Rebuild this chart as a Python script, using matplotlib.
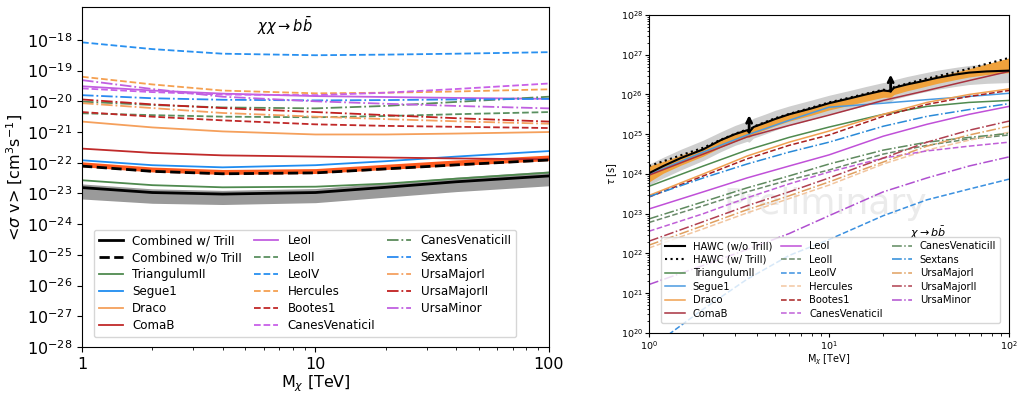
import numpy as np
import matplotlib
matplotlib.use("Agg")
import matplotlib.pyplot as plt
from matplotlib.ticker import LogLocator, NullFormatter, FixedLocator, FixedFormatter

# ---- left panel: <sigma v> limits, log10 values ----
m_left = [1, 2, 4, 10, 20, 40, 100]

sv_comb_w = [-22.81, -22.97, -23.02, -22.97, -22.80, -22.62, -22.43]
sv_comb_w_hi = [-22.69, -22.85, -22.90, -22.84, -22.66, -22.47, -22.27]
sv_comb_w_lo = [-23.18, -23.32, -23.36, -23.30, -23.12, -22.94, -22.75]
sv_comb_wo = [-22.11, -22.28, -22.36, -22.33, -22.20, -22.07, -21.91]
sv_comb_wo_hi = [-21.97, -22.14, -22.22, -22.19, -22.05, -21.91, -21.75]
sv_comb_wo_lo = [-22.13, -22.30, -22.38, -22.35, -22.22, -22.09, -21.93]

sv_dwarfs = {
    "TriangulumII": [-22.57, -22.73, -22.80, -22.78, -22.68, -22.52, -22.32],
    "Segue1": [-21.92, -22.08, -22.15, -22.08, -21.95, -21.80, -21.62],
    "Draco": [-20.66, -20.85, -20.98, -21.08, -21.08, -21.05, -21.00],
    "ComaB": [-21.54, -21.68, -21.76, -21.80, -21.83, -21.86, -21.89],
    "LeoI": [-19.51, -19.65, -19.75, -19.83, -19.86, -19.89, -19.92],
    "LeoII": [-20.39, -20.45, -20.50, -20.52, -20.48, -20.42, -20.35],
    "LeoIV": [-18.08, -18.30, -18.45, -18.50, -18.48, -18.45, -18.40],
    "Hercules": [-19.20, -19.45, -19.65, -19.74, -19.72, -19.68, -19.61],
    "Bootes1": [-20.35, -20.50, -20.62, -20.75, -20.80, -20.83, -20.87],
    "CanesVenaticiI": [-19.58, -19.70, -19.78, -19.80, -19.72, -19.60, -19.42],
    "CanesVenaticiII": [-20.01, -20.12, -20.20, -20.23, -20.15, -20.02, -19.85],
    "Sextans": [-19.80, -19.90, -19.95, -19.97, -19.96, -19.94, -19.92],
    "UrsaMajorI": [-20.06, -20.22, -20.38, -20.50, -20.58, -20.65, -20.73],
    "UrsaMajorII": [-19.94, -20.10, -20.22, -20.35, -20.45, -20.55, -20.66],
    "UrsaMinor": [-19.31, -19.60, -19.85, -20.00, -20.08, -20.15, -20.23],
}

# ---- right panel: lifetime limits, log10 values ----
m_right = [1, 2, 3.5, 6, 10, 20, 35, 60, 100]

tau_dwarfs = {
    "TriangulumII": [23.69, 24.20, 24.60, 24.92, 25.18, 25.50, 25.70, 25.80, 25.85],
    "Segue1": [23.99, 24.55, 24.98, 25.35, 25.68, 25.78, 25.87, 25.95, 26.03],
    "Draco": [23.46, 24.00, 24.45, 24.80, 25.08, 25.50, 25.80, 26.00, 26.14],
    "ComaB": [23.97, 24.50, 24.93, 25.22, 25.48, 25.85, 26.10, 26.35, 26.58],
    "LeoI": [23.12, 23.55, 23.90, 24.20, 24.48, 24.95, 25.25, 25.50, 25.70],
    "LeoII": [22.78, 23.20, 23.55, 23.85, 24.10, 24.50, 24.72, 24.88, 24.98],
    "LeoIV": [19.60, 20.60, 21.35, 21.95, 22.35, 22.95, 23.35, 23.62, 23.87],
    "Hercules": [22.14, 22.62, 23.02, 23.38, 23.72, 24.25, 24.60, 24.85, 25.05],
    "Bootes1": [23.42, 23.95, 24.38, 24.72, 24.98, 25.45, 25.75, 25.95, 26.10],
    "CanesVenaticiI": [22.56, 23.00, 23.40, 23.75, 24.05, 24.40, 24.58, 24.70, 24.80],
    "CanesVenaticiII": [22.87, 23.30, 23.65, 23.95, 24.25, 24.60, 24.80, 24.92, 25.02],
    "Sextans": [23.43, 23.90, 24.25, 24.55, 24.80, 25.20, 25.45, 25.62, 25.77],
    "UrsaMajorI": [22.21, 22.70, 23.10, 23.45, 23.80, 24.30, 24.70, 24.98, 25.20],
    "UrsaMajorII": [22.31, 22.80, 23.20, 23.55, 23.90, 24.40, 24.80, 25.10, 25.33],
    "UrsaMinor": [21.22, 21.70, 22.10, 22.50, 22.95, 23.55, 23.90, 24.20, 24.43],
}

m_hawc = [1, 1.2, 1.5, 2, 2.5, 3, 3.5, 3.6, 3.8, 4.5, 5, 6, 8, 10, 13, 16, 20, 22, 23,
          27, 32, 40, 50, 60, 75, 100]
tau_hawc_wo = [24.02, 24.20, 24.40, 24.62, 24.85, 25.00, 25.10, 25.05, 25.18, 25.30, 25.38,
               25.50, 25.65, 25.78, 25.90, 26.00, 26.10, 26.08, 26.17, 26.25, 26.32, 26.42,
               26.50, 26.55, 26.58, 26.60]
tau_hawc_w = [24.20, 24.32, 24.47, 24.66, 24.86, 25.01, 25.12, 25.08, 25.19, 25.32, 25.40,
              25.51, 25.67, 25.80, 25.92, 26.02, 26.12, 26.10, 26.19, 26.27, 26.36, 26.46,
              26.56, 26.65, 26.77, 26.92]
tau_gray_hi = [24.25, 24.42, 24.62, 24.85, 25.06, 25.22, 25.33, 25.33, 25.40, 25.52, 25.60,
               25.71, 25.86, 25.98, 26.10, 26.20, 26.30, 26.32, 26.37, 26.45, 26.52, 26.61,
               26.68, 26.73, 26.77, 26.80]
tau_gray_lo = [23.72, 23.90, 24.10, 24.34, 24.56, 24.72, 24.82, 24.80, 24.90, 25.02, 25.10,
               25.22, 25.37, 25.50, 25.62, 25.72, 25.82, 25.82, 25.88, 25.96, 26.04, 26.13,
               26.20, 26.25, 26.28, 26.30]
tau_orange_lo = [23.80, 24.02, 24.22, 24.45, 24.67, 24.82, 24.93, 24.92, 25.00, 25.13, 25.21,
                 25.33, 25.48, 25.61, 25.73, 25.83, 25.93, 25.93, 26.00, 26.09, 26.17, 26.28,
                 26.37, 26.44, 26.50, 26.55]

arrow_m = [3.6, 22]
arrow_base = [25.05, 26.08]
arrow_tip = [25.48, 26.50]

styles = {
    "TriangulumII": "-", "Segue1": "-", "Draco": "-", "ComaB": "-",
    "LeoI": "-", "LeoII": "--", "LeoIV": "--", "Hercules": "--", "Bootes1": "--",
    "CanesVenaticiI": "--", "CanesVenaticiII": "-.", "Sextans": "-.",
    "UrsaMajorI": "-.", "UrsaMajorII": "-.", "UrsaMinor": "-.",
}
colors_left = {
    "TriangulumII": "#4f8a4f", "Segue1": "#1f8cf0", "Draco": "#f5a05c", "ComaB": "#c02a2a",
    "LeoI": "#c25fe0", "LeoII": "#5a9060", "LeoIV": "#2890f0", "Hercules": "#f5a050",
    "Bootes1": "#c02828", "CanesVenaticiI": "#c860e8", "CanesVenaticiII": "#5a8a5a",
    "Sextans": "#2a8af0", "UrsaMajorI": "#f5a060", "UrsaMajorII": "#c02020",
    "UrsaMinor": "#c060e0",
}
colors_right = {
    "TriangulumII": "#4f8a4f", "Segue1": "#4a9ae0", "Draco": "#f0a050", "ComaB": "#a83240",
    "LeoI": "#c050d8", "LeoII": "#6a8a6a", "LeoIV": "#3a90e0", "Hercules": "#f2c6a0",
    "Bootes1": "#a82020", "CanesVenaticiI": "#c060d8", "CanesVenaticiII": "#5f8a5f",
    "Sextans": "#2a8ad8", "UrsaMajorI": "#e0a060", "UrsaMajorII": "#b04050",
    "UrsaMinor": "#b050d0",
}

p = lambda v: 10.0 ** np.asarray(v)

fig = plt.figure(figsize=(10.2, 3.93), dpi=100)

# ---------------- left: annihilation ----------------
ax1 = fig.add_axes([0.0804, 0.117, 0.4578, 0.865])
ax1.set_xscale("log")
ax1.set_yscale("log")

ax1.fill_between(m_left, p(sv_comb_w_lo), p(sv_comb_w_hi), color="#9a9a9a", lw=0, zorder=1)
ax1.fill_between(m_left, p(sv_comb_wo_lo), p(sv_comb_wo_hi), color="#ff5a1f", lw=0, zorder=1)
ax1.plot(m_left, p(sv_comb_w), color="black", lw=2, label="Combined w/ TriII", zorder=3)
ax1.plot(m_left, p(sv_comb_wo), color="black", lw=2, ls="--", label="Combined w/o TriII", zorder=3)
for name, vals in sv_dwarfs.items():
    ax1.plot(m_left, p(vals), ls=styles[name], color=colors_left[name], lw=1.3, label=name, zorder=2)

ax1.set_xlim(1, 100)
ax1.set_ylim(1e-28, 1.17e-17)
ax1.yaxis.set_major_locator(FixedLocator([10.0 ** k for k in range(-28, -17)]))
ax1.yaxis.set_minor_locator(FixedLocator([]))
ax1.xaxis.set_major_locator(FixedLocator([1, 10, 100]))
ax1.xaxis.set_major_formatter(FixedFormatter(["1", "10", "100"]))
ax1.xaxis.set_minor_locator(LogLocator(base=10, subs=np.arange(2, 10)))
ax1.xaxis.set_minor_formatter(NullFormatter())
ax1.tick_params(labelsize=11.5)
ax1.set_xlabel(r"M$_\chi$ [TeV]", fontsize=11.5, labelpad=1)
ax1.set_ylabel(r"<$\sigma$ v> [cm$^3$s$^{-1}$]", fontsize=11.5, labelpad=1)
ax1.text(0.435, 0.945, r"$\chi\chi\rightarrow b\bar{b}$", transform=ax1.transAxes,
         ha="center", va="center", fontsize=10.5)
ax1.legend(ncol=3, fontsize=8.6, loc="lower left", mode="expand",
           bbox_to_anchor=(0.013, 0.012, 0.93, 0.3), handlelength=2.0,
           labelspacing=0.33, borderpad=0.4)

# ---------------- right: decay ----------------
ax2 = fig.add_axes([0.6363, 0.1527, 0.3529, 0.8092])
ax2.set_xscale("log")
ax2.set_yscale("log")

ax2.text(9.5, 10 ** 23.25, "Preliminary", fontsize=26, color="#ebebeb",
         ha="center", va="center", zorder=0)
ax2.fill_between(m_hawc, p(tau_gray_lo), p(tau_gray_hi), color="#cfcfcf", lw=0, zorder=1)
ax2.fill_between(m_hawc, p(tau_orange_lo), p(tau_hawc_w), color="#f0a23c", lw=0, zorder=1)
ax2.plot(m_hawc, p(tau_hawc_wo), color="black", lw=1.5, label="HAWC (w/o TriII)", zorder=4)
ax2.plot(m_hawc, p(tau_hawc_w), color="black", lw=1.5, ls=":", label="HAWC (w/ TriII)", zorder=4)
for name, vals in tau_dwarfs.items():
    ax2.plot(m_right, p(vals), ls=styles[name], color=colors_right[name], lw=1.1, label=name, zorder=2)
for xm, yb, yt in zip(arrow_m, arrow_base, arrow_tip):
    ax2.annotate("", xy=(xm, 10 ** yt), xytext=(xm, 10 ** yb),
                 arrowprops=dict(arrowstyle="->", color="black", lw=2, mutation_scale=9,
                                 shrinkA=0, shrinkB=0), zorder=5)

ax2.set_xlim(1, 100)
ax2.set_ylim(1e20, 1e28)
ax2.yaxis.set_major_locator(LogLocator(base=10, numticks=20))
ax2.yaxis.set_minor_locator(LogLocator(base=10, subs=np.arange(2, 10), numticks=20))
ax2.yaxis.set_minor_formatter(NullFormatter())
ax2.tick_params(labelsize=6.8, length=3, pad=1.5)
ax2.tick_params(which="minor", length=1.8)
ax2.set_xlabel(r"M$_\chi$ [TeV]", fontsize=7, labelpad=0.5)
ax2.set_ylabel(r"$\tau$ [s]", fontsize=7, labelpad=1)
ax2.text(0.775, 0.314, r"$\chi\rightarrow b\bar{b}$", transform=ax2.transAxes,
         ha="center", va="center", fontsize=8)
ax2.legend(ncol=3, fontsize=7.2, loc="lower right", bbox_to_anchor=(0.989, 0.016),
           handlelength=2.0, columnspacing=0.9, labelspacing=0.35, borderpad=0.4)

fig.savefig("out.png", dpi=100)
